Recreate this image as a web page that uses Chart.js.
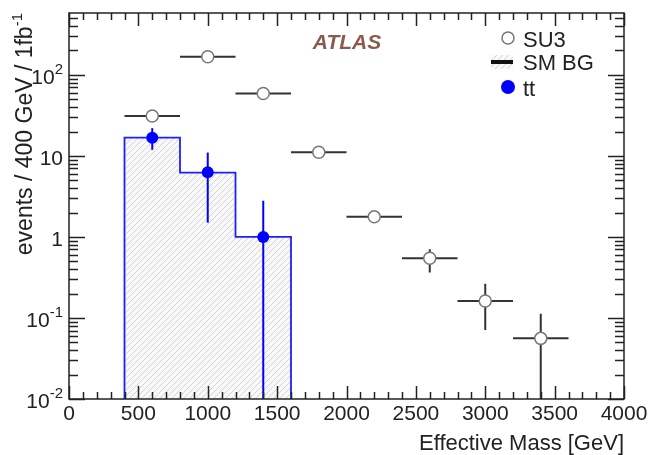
<!DOCTYPE html>
<html>
<head>
<meta charset="utf-8">
<script src="https://cdn.jsdelivr.net/npm/chart.js@4.4.1/dist/chart.umd.min.js"></script>
<style>
  body { margin: 0; background: #fff; }
  #wrap { width: 652px; height: 455px; }
</style>
</head>
<body>
<div id="wrap"><canvas id="myChart" width="652" height="455"></canvas></div>
<script>
// SU3 points: bin centres, values, ends of the error bars, half bin width
var su3X = [600, 1000, 1400, 1800, 2200, 2600, 3000, 3400];
var su3Y = [31, 167, 59, 11.1, 1.77, 0.546, 0.162, 0.056];
var su3Hi = [33.5, 175, 62.5, 12.2, 1.93, 0.705, 0.265, 0.113];
var su3Lo = [28.6, 159, 55.5, 10.1, 1.56, 0.363, 0.071, 0.001];
var su3HalfBin = [200, 200, 200, 200, 200, 200, 200, 200];

// ttbar points
var ttX = [600, 1000, 1400];
var ttY = [16.8, 6.3, 1.0];
var ttHi = [22, 11, 2.8];
var ttLo = [11.9, 1.5, 0.001];

// SM BG histogram (bin edges + contents)
var bgEdges = [400, 800, 1200, 1600];
var bgY = [16.8, 6.2, 1.0];

// axis ranges and y tick labels
var xMin = 0, xMax = 4000;
var yMin = 0.01, yMax = 580;
var yDecades = [0.01, 0.1, 1, 10, 100];
var yDecadeBase = ['10', '10', '1', '10', '10'];
var yDecadeExp = ['-2', '-1', '', '', '2'];

var FONT = '"Liberation Sans", Arial, sans-serif';
Chart.defaults.font.family = FONT;

// hatch for the SM BG fill
function makeHatch() {
  var c = document.createElement('canvas');
  c.width = 6; c.height = 6;
  var g = c.getContext('2d');
  g.fillStyle = '#f9f9f9';
  g.fillRect(0, 0, 6, 6);
  g.strokeStyle = '#d3d3d3';
  g.lineWidth = 1;
  g.beginPath();
  g.moveTo(-1, 7); g.lineTo(7, -1);
  g.stroke();
  return g.createPattern(c, 'repeat');
}
var hatch = makeHatch();

// step outline points built from the bins
var bgStep = [{x: bgEdges[0], y: yMin}];
for (var i = 0; i < bgY.length; i++) {
  bgStep.push({x: bgEdges[i], y: bgY[i]});
}
bgStep.push({x: bgEdges[bgEdges.length - 1], y: yMin});

var errorBars = {
  id: 'errorBars',
  beforeDatasetDraw: function (chart, args) {
    var ds = chart.data.datasets[args.index];
    if (!ds.errHi) return;
    var ctx = chart.ctx, xs = chart.scales.x, ys = chart.scales.y, a = chart.chartArea;
    ctx.save();
    ctx.beginPath();
    ctx.rect(a.left, a.top, a.right - a.left, a.bottom - a.top);
    ctx.clip();
    ctx.strokeStyle = ds.errColor;
    ctx.lineWidth = 2;
    ds.data.forEach(function (p, i) {
      var px = xs.getPixelForValue(p.x), py = ys.getPixelForValue(p.y);
      ctx.beginPath();
      ctx.moveTo(px, ys.getPixelForValue(ds.errHi[i]));
      ctx.lineTo(px, ys.getPixelForValue(ds.errLo[i]));
      if (ds.halfBin) {
        ctx.moveTo(xs.getPixelForValue(p.x - ds.halfBin[i]), py);
        ctx.lineTo(xs.getPixelForValue(p.x + ds.halfBin[i]), py);
      }
      ctx.stroke();
    });
    ctx.restore();
  }
};

var frameAndLabels = {
  id: 'frameAndLabels',
  afterDatasetsDraw: function (chart) {
    var ctx = chart.ctx, xs = chart.scales.x, ys = chart.scales.y, a = chart.chartArea;
    ctx.save();
    ctx.strokeStyle = '#222';
    ctx.lineWidth = 1.5;
    ctx.strokeRect(a.left, a.top, a.right - a.left, a.bottom - a.top);
    ctx.beginPath();
    // x ticks, bottom and top, pointing inwards
    for (var v = xMin; v <= xMax; v += 100) {
      var px = Math.round(xs.getPixelForValue(v)) + 0.5;
      var len = v % 500 === 0 ? 13 : 7;
      ctx.moveTo(px, a.bottom); ctx.lineTo(px, a.bottom - len);
      ctx.moveTo(px, a.top); ctx.lineTo(px, a.top + len);
    }
    // log y ticks, left and right
    yDecades.forEach(function (d) {
      for (var m = 1; m <= 9; m++) {
        var val = d * m;
        if (val > yMax) break;
        var py = Math.round(ys.getPixelForValue(val)) + 0.5;
        var l = m === 1 ? 16 : 9;
        ctx.moveTo(a.left, py); ctx.lineTo(a.left + l, py);
        ctx.moveTo(a.right, py); ctx.lineTo(a.right - l, py);
      }
    });
    ctx.stroke();
    ctx.restore();
  },
  afterDraw: function (chart) {
    var ctx = chart.ctx, ys = chart.scales.y, a = chart.chartArea;
    ctx.save();
    ctx.fillStyle = '#222';
    // y tick labels with superscripts
    yDecades.forEach(function (d, i) {
      var py = ys.getPixelForValue(d);
      ctx.font = '21px ' + FONT;
      var wb = ctx.measureText(yDecadeBase[i]).width;
      ctx.font = '15px ' + FONT;
      var we = yDecadeExp[i] ? ctx.measureText(yDecadeExp[i]).width : 0;
      var right = a.left - 6;
      ctx.textBaseline = 'middle';
      ctx.textAlign = 'left';
      ctx.font = '21px ' + FONT;
      ctx.fillText(yDecadeBase[i], right - we - wb, py + 3);
      if (yDecadeExp[i]) {
        ctx.font = '15px ' + FONT;
        ctx.fillText(yDecadeExp[i], right - we, py - 5);
      }
    });
    // y axis title, rotated, ending at the top of the frame
    var t1 = 'events / 400 GeV / 1fb', t2 = '-1';
    ctx.font = '23px ' + FONT;
    var w1 = ctx.measureText(t1).width;
    ctx.font = '15px ' + FONT;
    var w2 = ctx.measureText(t2).width;
    ctx.translate(32, a.top + w1 + w2);
    ctx.rotate(-Math.PI / 2);
    ctx.textBaseline = 'alphabetic';
    ctx.font = '23px ' + FONT;
    ctx.fillText(t1, 0, 0);
    ctx.font = '15px ' + FONT;
    ctx.fillText(t2, w1, -10);
    ctx.restore();

    // ATLAS label
    ctx.save();
    ctx.font = 'italic bold 21px ' + FONT;
    ctx.fillStyle = '#8c5a4a';
    ctx.textAlign = 'center';
    ctx.textBaseline = 'middle';
    ctx.fillText('ATLAS', 347, 43);

    // legend
    ctx.textAlign = 'left';
    ctx.fillStyle = '#222';
    ctx.font = '22px ' + FONT;
    ctx.fillText('SU3', 523, 41);
    ctx.fillText('SM BG', 523, 64);
    ctx.fillText('tt', 523, 90);
    ctx.beginPath();
    ctx.arc(508, 38, 6, 0, Math.PI * 2);
    ctx.fillStyle = '#fff';
    ctx.fill();
    ctx.strokeStyle = '#777';
    ctx.lineWidth = 1.5;
    ctx.stroke();
    ctx.fillStyle = hatch;
    ctx.fillRect(491, 55, 22, 14);
    ctx.strokeStyle = '#111';
    ctx.lineWidth = 4;
    ctx.beginPath();
    ctx.moveTo(491, 62); ctx.lineTo(513, 62);
    ctx.stroke();
    ctx.beginPath();
    ctx.arc(508, 87, 7, 0, Math.PI * 2);
    ctx.fillStyle = '#0000ff';
    ctx.fill();
    ctx.restore();
  }
};

var ctx = document.getElementById('myChart').getContext('2d');
var myChart = new Chart(ctx, {
  type: 'scatter',
  data: {
    datasets: [{
      label: 'SU3',
      data: su3X.map(function (x, i) { return {x: x, y: su3Y[i]}; }),
      errHi: su3Hi,
      errLo: su3Lo,
      halfBin: su3HalfBin,
      errColor: '#333',
      pointRadius: 6,
      pointBackgroundColor: '#fff',
      pointBorderColor: '#777',
      pointBorderWidth: 1.5,
      order: 1
    }, {
      label: 'tt',
      data: ttX.map(function (x, i) { return {x: x, y: ttY[i]}; }),
      errHi: ttHi,
      errLo: ttLo,
      errColor: '#0000ff',
      pointRadius: 6,
      pointBackgroundColor: '#0000ff',
      pointBorderColor: '#0000ff',
      pointBorderWidth: 0,
      order: 2
    }, {
      type: 'line',
      label: 'SM BG',
      data: bgStep,
      stepped: true,
      borderColor: '#1f1fff',
      borderWidth: 1.8,
      backgroundColor: hatch,
      fill: 'start',
      pointRadius: 0,
      order: 3
    }]
  },
  options: {
    responsive: false,
    animation: false,
    devicePixelRatio: 1,
    layout: { padding: { top: 13, right: 28, left: 0, bottom: 0 } },
    plugins: { legend: { display: false }, tooltip: { enabled: false } },
    scales: {
      x: {
        type: 'linear',
        min: xMin,
        max: xMax,
        grid: { display: false, drawTicks: false },
        border: { display: false },
        ticks: {
          stepSize: 500,
          autoSkip: false,
          maxRotation: 0,
          padding: 3,
          color: '#222',
          font: { size: 21 },
          callback: function (value) { return String(value); }
        },
        title: {
          display: true,
          text: 'Effective Mass [GeV]',
          align: 'end',
          color: '#222',
          font: { size: 22, lineHeight: 1 },
          padding: { top: 0, bottom: 0 }
        },
        afterFit: function (s) { s.height = 56; }
      },
      y: {
        type: 'logarithmic',
        min: yMin,
        max: yMax,
        grid: { display: false, drawTicks: false },
        border: { display: false },
        ticks: { display: false },
        afterFit: function (s) { s.width = 69; }
      }
    }
  },
  plugins: [errorBars, frameAndLabels]
});
</script>
</body>
</html>
